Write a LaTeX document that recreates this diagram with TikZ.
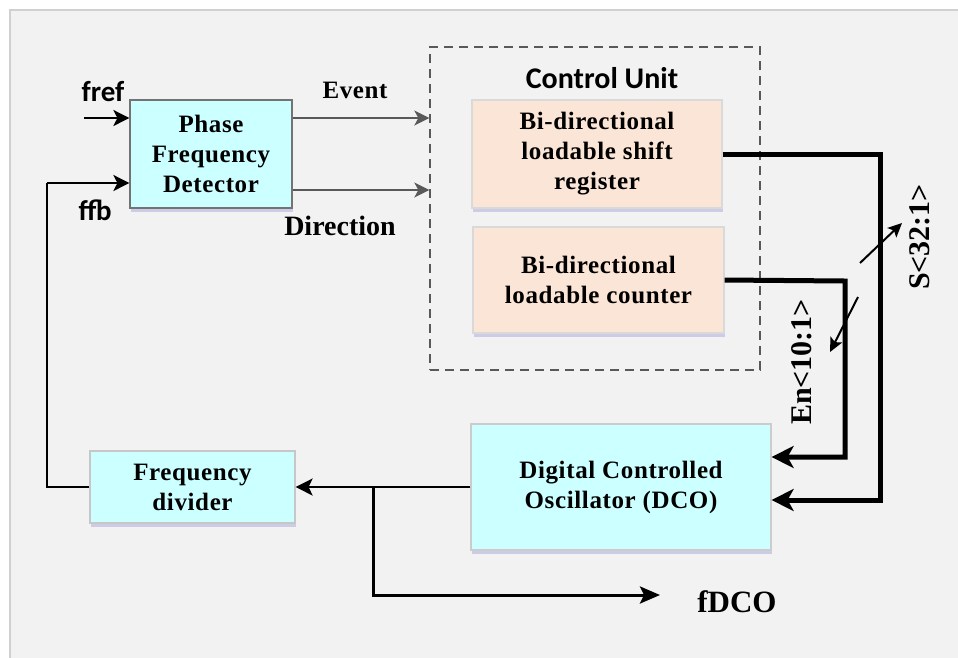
\documentclass[tikz,border=0pt]{standalone}
\usepackage{fontspec}
\setmainfont{Liberation Serif}
\newfontfamily\tmsfont{Liberation Serif}
\newfontfamily\tmswide{Liberation Serif}[LetterSpace=2.5]
\newfontfamily\calfont{Carlito}
\usetikzlibrary{arrows.meta,shadows}
\definecolor{panel}{HTML}{F2F2F2}
\definecolor{panelline}{HTML}{D0D0D0}
\definecolor{cyanbox}{HTML}{CCFFFF}
\definecolor{peach}{HTML}{FBE5D6}
\definecolor{sig}{HTML}{595959}
\begin{document}
\begin{tikzpicture}[x=1pt,y=-1pt,
  blk/.style={line width=1.2pt, inner sep=0pt, align=center,
    font=\fontsize{25}{30}\tmswide\bfseries,
    drop shadow={shadow xshift=1pt, shadow yshift=-4pt, fill=blue!45!gray, opacity=0.22}},
  cyanblk/.style={blk, fill=cyanbox, draw=#1},
  peachblk/.style={blk, fill=peach, draw=black!15},
  lbl/.style={font=\fontsize{25}{30}\tmswide\bfseries},
  callbl/.style={font=\fontsize{29}{34}\calfont\bfseries},
  thin/.style={line width=2pt, -{Stealth[length=16pt,width=16pt,inset=4pt]}},
  grayarr/.style={sig, line width=2pt, -{Stealth[length=15pt,width=15pt,inset=4pt]}},
  bus/.style={line width=5pt, -{Stealth[length=22pt,width=22pt,inset=6pt]}},
  slash/.style={line width=2pt, -{Stealth[length=14pt,width=13pt,inset=3pt]}}]
\useasboundingbox (0,0) rectangle (958,657);
\clip (0,0) rectangle (958,657);
% panel
\fill[white] (0,0) rectangle (958,657);
\draw[panelline, fill=panel, line width=1.5pt] (10,10) rectangle (980,680);

% control unit frame
\node[draw=sig, dashed, dash pattern=on 9pt off 6pt, line width=1.3pt,
      minimum width=330pt, minimum height=323pt, inner sep=0pt] (cu) at (595,208.5) {};
\node[font=\fontsize{30}{36}\calfont\bfseries] (cut) at (602,78) {Control Unit};

% blocks
\node[cyanblk=black!55, minimum width=162pt, minimum height=108pt] (pfd) at (211,154)
  {Phase\\Frequency\\Detector};
\node[peachblk, minimum width=250pt, minimum height=108pt] (sr) at (597,154)
  {Bi-directional\\loadable shift\\register};
\node[peachblk, minimum width=251pt, minimum height=106pt] (ctr) at (598.5,280)
  {Bi-directional\\loadable counter};
\node[cyanblk=black!22, minimum width=205pt, minimum height=72pt] (fd) at (192.5,487)
  {Frequency\\divider};
\node[cyanblk=black!20, minimum width=300pt, minimum height=126pt] (dco) at (621,487)
  {Digital Controlled\\Oscillator (DCO)};

% inputs of the phase frequency detector
\coordinate (fin) at (84,118);
\draw[thin] (fin) -- (fin -| pfd.west);
\node[callbl] (fref) at (103,92) {fref};
\coordinate (fbk) at (47,183);
\draw[line width=1.6pt] (fd.west) -| (fbk);
\draw[thin] (fbk) -- (fbk -| pfd.west);
\node[callbl] (ffb) at (95,210) {ffb};

% detector outputs
\draw[grayarr] ([yshift=36pt]pfd.east) -- ([yshift=36pt]pfd.east -| cu.west);
\draw[grayarr] ([yshift=-36pt]pfd.east) -- ([yshift=-36pt]pfd.east -| cu.west);
\node[lbl] (ev) at (355,90) {Event};
\node[font=\fontsize{28}{34}\tmsfont\bfseries] (dir) at (340,226) {Direction};

% control words to the DCO
\coordinate (sbend) at (880,154);
\coordinate (ebend) at (845,281);
\draw[bus] (sr.east) -- (sbend) |- ([yshift=-13pt]dco.east);
\draw[bus] (ctr.east) -- (ebend) |- ([yshift=30pt]dco.east);
\coordinate (s0) at (860,263); \coordinate (s1) at (902,223);
\draw[slash] (s0) -- (s1);
\coordinate (e0) at (858,297); \coordinate (e1) at (830,352);
\draw[slash] (e0) -- (e1);
\node[font=\fontsize{30}{36}\tmsfont\bfseries, rotate=90] (sl) at (920,237) {S<32:1>};
\node[font=\fontsize{30}{36}\tmsfont\bfseries, rotate=90] (el) at (802,362) {En<10:1>};

% DCO output
\draw[line width=2pt, -{Stealth[length=17pt,width=17pt,inset=4pt]}] (dco.west) -- (fd.east);
\coordinate (br) at (373,487);
\coordinate (fout) at (660,595);
\draw[line width=3pt, -{Stealth[length=20pt,width=17pt,inset=4pt]}] (br) |- (fout);
\node[font=\fontsize{31}{36}\tmsfont\bfseries] (fdco) at (737,602) {fDCO};
\end{tikzpicture}
\end{document}
